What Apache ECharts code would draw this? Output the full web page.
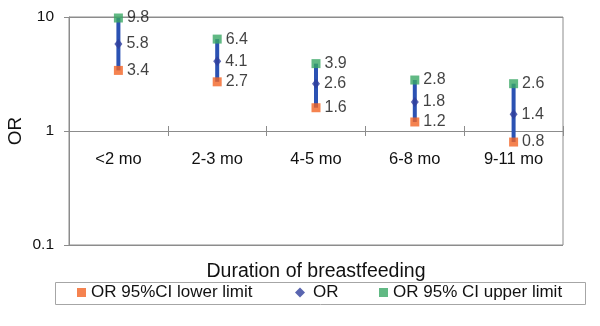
<!DOCTYPE html>
<html>
<head>
<meta charset="utf-8">
<script src="https://cdn.jsdelivr.net/npm/echarts@6/dist/echarts.min.js"></script>
<style>
  html, body { margin: 0; padding: 0; background: #fff; }
  #chart { width: 600px; height: 326px; }
</style>
</head>
<body>
<div id="chart"></div>
<script>
// Odds ratios by duration of breastfeeding, with 95% confidence limits
const categories = ['<2 mo', '2-3 mo', '4-5 mo', '6-8 mo', '9-11 mo'];
const lowerLimit = [3.4, 2.7, 1.6, 1.2, 0.8];
const oddsRatio  = [5.8, 4.1, 2.6, 1.8, 1.4];
const upperLimit = [9.8, 6.4, 3.9, 2.8, 2.6];
const yTicks = [0.1, 1, 10];

const FONT = '"Liberation Sans", Arial, sans-serif';
const GRID = { left: 69, top: 17, right: 37, bottom: 81 };
const AXIS_GRAY = '#8c8c8c';
const ORANGE = '#f26424';
const BLUE_DOT = '#2f3f9c';
const BAR_BLUE = '#2b52b3';
const GREEN = '#3aa765';

const chart = echarts.init(document.getElementById('chart'), null, { renderer: 'canvas' });

// place the category axis where the value 1 sits on the log scale
const plotHeight = 326 - GRID.top - GRID.bottom;
const logMin = Math.log10(yTicks[0]);
const logMax = Math.log10(yTicks[yTicks.length - 1]);
const axisAtOne = -plotHeight * (0 - logMin) / (logMax - logMin);

const valueLabel = {
  show: true,
  position: 'right',
  distance: 4,
  color: '#111',
  fontFamily: FONT,
  fontSize: 16,
  formatter: p => p.value[1].toFixed(1)
};

const pointsOf = arr => arr.map((v, i) => [categories[i], v]);

const hiddenAxisBits = {
  axisLine: { show: false }, axisTick: { show: false }, axisLabel: { show: false }, splitLine: { show: false }
};

chart.setOption({
  animation: false,
  backgroundColor: '#fff',
  grid: {
    ...GRID,
    outerBoundsMode: 'none',
    containLabel: false,
    show: true,
    borderColor: AXIS_GRAY,
    borderWidth: 1,
    backgroundColor: 'transparent'
  },
  xAxis: [
    {
      type: 'category',
      data: categories,
      position: 'bottom',
      name: 'Duration of breastfeeding',
      nameLocation: 'middle',
      nameGap: 17,
      nameMoveOverlap: false,
      nameTextStyle: { color: '#111', fontFamily: FONT, fontSize: 19.5 },
      ...hiddenAxisBits
    },
    {
      type: 'category',
      data: categories,
      position: 'bottom',
      offset: axisAtOne,
      axisLine: { show: true, lineStyle: { color: AXIS_GRAY, width: 1 } },
      axisTick: { show: true, inside: false, length: 5, lineStyle: { color: AXIS_GRAY } },
      axisLabel: { show: true, margin: 20, color: '#111', fontFamily: FONT, fontSize: 16.5 },
      splitLine: { show: false }
    },
    {
      type: 'category',
      data: categories,
      position: 'bottom',
      offset: axisAtOne,
      axisLine: { show: false },
      axisTick: { show: true, inside: true, length: 5, lineStyle: { color: AXIS_GRAY } },
      axisLabel: { show: false },
      splitLine: { show: false }
    }
  ],
  yAxis: {
    type: 'log',
    logBase: 10,
    min: yTicks[0],
    max: yTicks[yTicks.length - 1],
    axisLine: { show: true, lineStyle: { color: AXIS_GRAY, width: 1 } },
    axisTick: { show: true, length: 5, lineStyle: { color: AXIS_GRAY } },
    axisLabel: {
      margin: 15,
      color: '#111',
      fontFamily: FONT,
      fontSize: 15.5,
      formatter: v => String(v)
    },
    splitLine: { show: true, lineStyle: { color: AXIS_GRAY, width: 1 } }
  },
  legend: [
    {
      data: ['OR 95%CI lower limit'],
      left: 77, top: 284, padding: 0,
      itemWidth: 9, itemHeight: 9, itemGap: 0,
      textStyle: { color: '#111', fontFamily: FONT, fontSize: 17, padding: [0, 0, 0, 0] },
      selectedMode: false
    },
    {
      data: ['OR'],
      left: 295, top: 284, padding: 0,
      itemWidth: 10, itemHeight: 10, itemGap: 0,
      textStyle: { color: '#111', fontFamily: FONT, fontSize: 17, padding: [0, 0, 0, 3] },
      selectedMode: false
    },
    {
      data: ['OR 95% CI upper limit'],
      left: 379, top: 284, padding: 0,
      itemWidth: 9, itemHeight: 9, itemGap: 0,
      textStyle: { color: '#111', fontFamily: FONT, fontSize: 17, padding: [0, 0, 0, 0] },
      selectedMode: false
    }
  ],
  graphic: [
    {
      type: 'rect',
      left: 55, top: 282, z: -1,
      shape: { width: 530, height: 22 },
      style: { fill: '#fff', stroke: '#a6a6a6', lineWidth: 1 }
    },
    {
      // value axis title
      type: 'text',
      x: 16, y: 131,
      rotation: Math.PI / 2,
      style: {
        text: 'OR',
        fill: '#111',
        font: '19px "Liberation Sans", Arial, sans-serif',
        align: 'center',
        verticalAlign: 'middle'
      }
    }
  ],
  series: [
    {
      // confidence interval bars
      type: 'custom',
      name: 'CI',
      xAxisIndex: 0,
      data: categories.map((c, i) => [i, lowerLimit[i], upperLimit[i]]),
      encode: { x: 0, y: [1, 2] },
      z: 1,
      renderItem: (params, api) => {
        const lo = api.coord([api.value(0), api.value(1)]);
        const hi = api.coord([api.value(0), api.value(2)]);
        return {
          type: 'line',
          shape: { x1: lo[0], y1: lo[1], x2: hi[0], y2: hi[1] },
          style: { stroke: BAR_BLUE, lineWidth: 4 }
        };
      }
    },
    {
      type: 'scatter',
      name: 'OR 95%CI lower limit',
      xAxisIndex: 0,
      data: pointsOf(lowerLimit),
      symbol: 'rect',
      symbolSize: 9,
      itemStyle: { color: ORANGE },
      label: valueLabel,
      z: 3
    },
    {
      type: 'scatter',
      name: 'OR',
      xAxisIndex: 0,
      data: pointsOf(oddsRatio),
      symbol: 'diamond',
      symbolSize: [8, 10],
      itemStyle: { color: BLUE_DOT },
      label: valueLabel,
      z: 3
    },
    {
      type: 'scatter',
      name: 'OR 95% CI upper limit',
      xAxisIndex: 0,
      data: pointsOf(upperLimit),
      symbol: 'rect',
      symbolSize: 9,
      itemStyle: { color: GREEN },
      label: valueLabel,
      z: 3
    }
  ]
});
</script>
</body>
</html>
